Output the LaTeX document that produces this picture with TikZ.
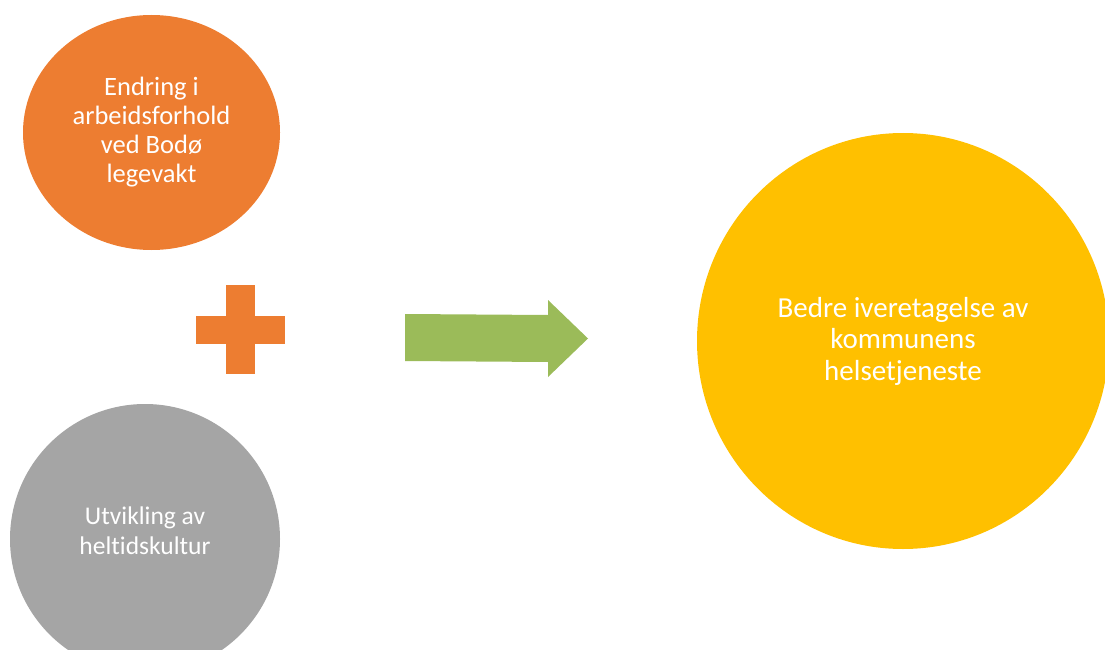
\documentclass[tikz,border=0pt]{standalone}
\usepackage{fontspec}
\setmainfont{Carlito}[Ligatures=NoCommon]
\usetikzlibrary{shapes.geometric}
\definecolor{accentorange}{HTML}{ED7D31}
\definecolor{accentgray}{HTML}{A5A5A5}
\definecolor{accentgold}{HTML}{FFC000}
\definecolor{accentgreen}{HTML}{9BBB59}

\begin{document}
\begin{tikzpicture}[x=1pt,y=-1pt,
    bubble/.style={ellipse,inner sep=0pt,text=white,align=center,
      font=\fontsize{26.5}{29}\selectfont}]
      \useasboundingbox (0,0) rectangle (1105,650);
      \clip (0,0) rectangle (1105,650);
      \node (endring) [bubble,fill=accentorange,minimum width=257pt,minimum height=235pt] at (151.5,132.5) {Endring i\\arbeidsforhold\\ved Bodø\\legevakt};
      \node (heltid) [bubble,fill=accentgray,minimum width=270pt,minimum height=270pt] at (145,539) {};
      \node (heltidtext) [bubble,font=\fontsize{25.5}{30}\selectfont] at ([yshift=8pt]heltid.center) {Utvikling av\\heltidskultur};
      \node (bedre) [bubble,fill=accentgold,minimum width=412pt,minimum height=416pt,font=\fontsize{29}{31.5}\selectfont] at (903,341) {Bedre iveretagelse av\\kommunens\\helsetjeneste};
      % plus sign between the two bubbles
      \fill[accentorange] (196,316) rectangle (285,344);
      \fill[accentorange] (226,285) rectangle (255,374);
      % block arrow
      \fill[accentgreen] (405,314) -- (548,315) -- (548,300) -- (588,338.5)
        -- (548,377) -- (548,362) -- (405,361) -- cycle;
    \end{tikzpicture}
\end{document}
